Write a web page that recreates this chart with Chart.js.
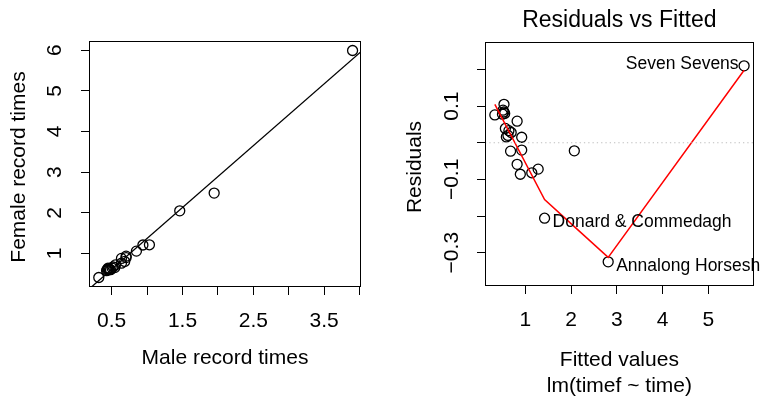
<!DOCTYPE html>
<html>
<head>
<meta charset="utf-8">
<script src="https://cdn.jsdelivr.net/npm/chart.js@4.4.1/dist/chart.umd.min.js"></script>
<style>
html, body { margin: 0; padding: 0; background: #fff; }
#wrap { position: relative; width: 760px; height: 398px; overflow: hidden; }
canvas { position: absolute; top: 0; }
</style>
</head>
<body>
<div id="wrap">
  <canvas id="left-plot" width="380" height="398" style="left:0"></canvas>
  <canvas id="right-plot" width="380" height="398" style="left:380px"></canvas>
</div>
<script>
// record times, hours
const maleTimes   = [3.901, 1.947, 1.033, 1.461, 0.318, 0.449, 0.436, 0.459, 0.447, 0.638, 0.469, 0.553,
                     0.520, 0.484, 0.507, 0.704, 0.544, 0.704, 0.638, 0.684, 0.849, 0.941, 0.428];
const femaleTimes = [5.990, 2.485, 1.214, 2.048, 0.409, 0.638, 0.601, 0.628, 0.614, 0.879, 0.602, 0.718,
                     0.673, 0.601, 0.640, 0.935, 0.654, 0.900, 0.761, 0.804, 1.058, 1.208, 0.578];
const fittedValues   = [5.78, 2.81, 1.42, 2.07, 0.333, 0.533, 0.512, 0.548, 0.53, 0.82, 0.563, 0.69,
                        0.64, 0.585, 0.62, 0.92, 0.677, 0.92, 0.82, 0.89, 1.14, 1.28, 0.50];
const residualValues = [0.210, -0.325, -0.206, -0.022, 0.076, 0.105, 0.089, 0.080, 0.084, 0.059, 0.039, 0.028,
                        0.033, 0.016, 0.020, 0.015, -0.023, -0.020, -0.059, -0.086, -0.082, -0.072, 0.078];
const raceLabels = ['Seven Sevens', 'Annalong Horseshoe', 'Donard & Commedagh'];

// lm(timef ~ time) line and the red smoother
const fitLineX = [0.18, 4.02];
const fitLineY = [0.124, 5.96];
const smoothX = [0.333, 1.42, 2.07, 2.81, 5.78];
const smoothY = [0.105, -0.155, -0.229, -0.313, 0.198];

// axes
const leftXRange = [0.18, 4.02];
const leftYRange = [0.176, 6.224];
const rightXRange = [0.118, 5.99];
const rightYRange = [-0.391, 0.275];
const leftXTicks = [0.5, 1, 1.5, 2, 2.5, 3, 3.5, 4];
const leftXTickLabels = ['0.5', '', '1.5', '', '2.5', '', '3.5', ''];
const leftYTicks = [1, 2, 3, 4, 5, 6];
const leftYTickLabels = ['1', '2', '3', '4', '5', '6'];
const rightXTicks = [1, 2, 3, 4, 5];
const rightXTickLabels = ['1', '2', '3', '4', '5'];
const rightYTicks = [-0.3, -0.2, -0.1, 0, 0.1, 0.2];
const rightYTickLabels = ['\u22120.3', '', '\u22120.1', '', '0.1', ''];

const FONT = '"Liberation Sans", Arial, Helvetica, sans-serif';

function toXY(xs, ys) {
  return xs.map((x, i) => ({ x: x, y: ys[i] }));
}

function axis(range, ticks, labels, fit, horizontal) {
  return {
    type: 'linear', min: range[0], max: range[1],
    afterFit: s => { if (horizontal) s.height = fit; else s.width = fit; },
    afterBuildTicks: s => { s.ticks = ticks.map(v => ({ value: v })); },
    ticks: {
      autoSkip: false, maxRotation: 0, minRotation: 0, padding: 14,
      font: { family: FONT, size: 21 },
      color: horizontal ? '#000' : 'rgba(0,0,0,0)',
      callback: (v, i) => labels[i]
    },
    grid: { drawOnChartArea: false, drawTicks: true, tickLength: 8, color: '#000', lineWidth: 1 },
    border: { display: false }
  };
}

// box, rotated y tick labels, axis titles, point labels
function decor(opts) {
  return {
    id: 'decor',
    afterDraw(chart) {
      const ctx = chart.ctx, a = chart.chartArea;
      const ys = chart.scales.y, xs = chart.scales.x;
      ctx.save();
      ctx.strokeStyle = '#000';
      ctx.lineWidth = 1;
      ctx.strokeRect(Math.round(a.left) + 0.5, Math.round(a.top) + 0.5,
                     Math.round(a.right - a.left) - 1, Math.round(a.bottom - a.top) - 1);
      ctx.fillStyle = '#000';
      ctx.textAlign = 'center';
      ctx.textBaseline = 'middle';
      ctx.font = '21px ' + FONT;
      ys.ticks.forEach((t, i) => {
        if (!opts.yLabels[i]) return;
        ctx.save();
        ctx.translate(opts.yLabelX, ys.getPixelForValue(t.value));
        ctx.rotate(-Math.PI / 2);
        ctx.fillText(opts.yLabels[i], 0, 0);
        ctx.restore();
      });
      const cx = (a.left + a.right) / 2;
      opts.xTitle.forEach((line, i) => ctx.fillText(line, cx, opts.xTitleY + i * 26.5));
      ctx.save();
      ctx.translate(opts.yTitleX, (a.top + a.bottom) / 2 + 3);
      ctx.rotate(-Math.PI / 2);
      ctx.fillText(opts.yTitle, 0, 0);
      ctx.restore();
      if (opts.main) {
        ctx.font = '23px ' + FONT;
        ctx.fillText(opts.main, cx, 21);
      }
      if (opts.pointLabels) {
        ctx.font = '17.5px ' + FONT;
        const mid = (xs.min + xs.max) / 2;
        opts.pointLabels.forEach((name, i) => {
          const v = opts.points[i];
          const px = xs.getPixelForValue(v.x), py = ys.getPixelForValue(v.y);
          if (v.x > mid) {
            ctx.textAlign = 'right';
            ctx.fillText(name, px - 5.5, py - 1.5);
          } else {
            ctx.textAlign = 'left';
            ctx.fillText(name, px + 8, py + 4);
          }
        });
      }
      ctx.restore();
    }
  };
}

const pointStyle = {
  type: 'scatter', showLine: false, pointRadius: 5, pointHoverRadius: 5,
  pointBackgroundColor: 'rgba(0,0,0,0)', pointBorderColor: '#000', pointBorderWidth: 1.3
};

const common = {
  responsive: false, animation: false, events: [],
  plugins: { legend: { display: false }, tooltip: { enabled: false }, title: { display: false } }
};

const leftPoints = toXY(maleTimes, femaleTimes);
new Chart(document.getElementById('left-plot'), {
  type: 'scatter',
  data: {
    datasets: [
      Object.assign({ data: leftPoints }, pointStyle),
      { type: 'line', data: toXY(fitLineX, fitLineY), borderColor: '#000', borderWidth: 1.3,
        pointRadius: 0, fill: false, tension: 0 }
    ]
  },
  options: Object.assign({}, common, {
    layout: { padding: { top: 41, right: 19, left: 0, bottom: 0 } },
    scales: {
      x: axis(leftXRange, leftXTicks, leftXTickLabels, 111, true),
      y: axis(leftYRange, leftYTicks, leftYTickLabels, 89, false)
    }
  }),
  plugins: [decor({
    yLabels: leftYTickLabels, yLabelX: 55,
    xTitle: ['Male record times'], xTitleY: 358,
    yTitle: 'Female record times', yTitleX: 19
  })]
});

const rightPoints = toXY(fittedValues, residualValues);
new Chart(document.getElementById('right-plot'), {
  type: 'scatter',
  data: {
    datasets: [
      { type: 'line', data: toXY(rightXRange, [0, 0]), borderColor: '#bebebe', borderWidth: 1.2,
        borderDash: [1.3, 3], pointRadius: 0, fill: false },
      { type: 'line', data: toXY(smoothX, smoothY), borderColor: '#ff0000', borderWidth: 1.5,
        pointRadius: 0, fill: false, tension: 0 },
      Object.assign({ data: rightPoints }, pointStyle)
    ]
  },
  options: Object.assign({}, common, {
    layout: { padding: { top: 42, right: 2, left: 0, bottom: 0 } },
    scales: {
      x: axis(rightXRange, rightXTicks, rightXTickLabels, 112, true),
      y: axis(rightYRange, rightYTicks, rightYTickLabels, 105, false)
    }
  }),
  plugins: [decor({
    yLabels: rightYTickLabels, yLabelX: 72,
    xTitle: ['Fitted values', 'lm(timef ~ time)'], xTitleY: 360,
    yTitle: 'Residuals', yTitleX: 35,
    main: 'Residuals vs Fitted',
    pointLabels: raceLabels, points: rightPoints
  })]
});
</script>
</body>
</html>
